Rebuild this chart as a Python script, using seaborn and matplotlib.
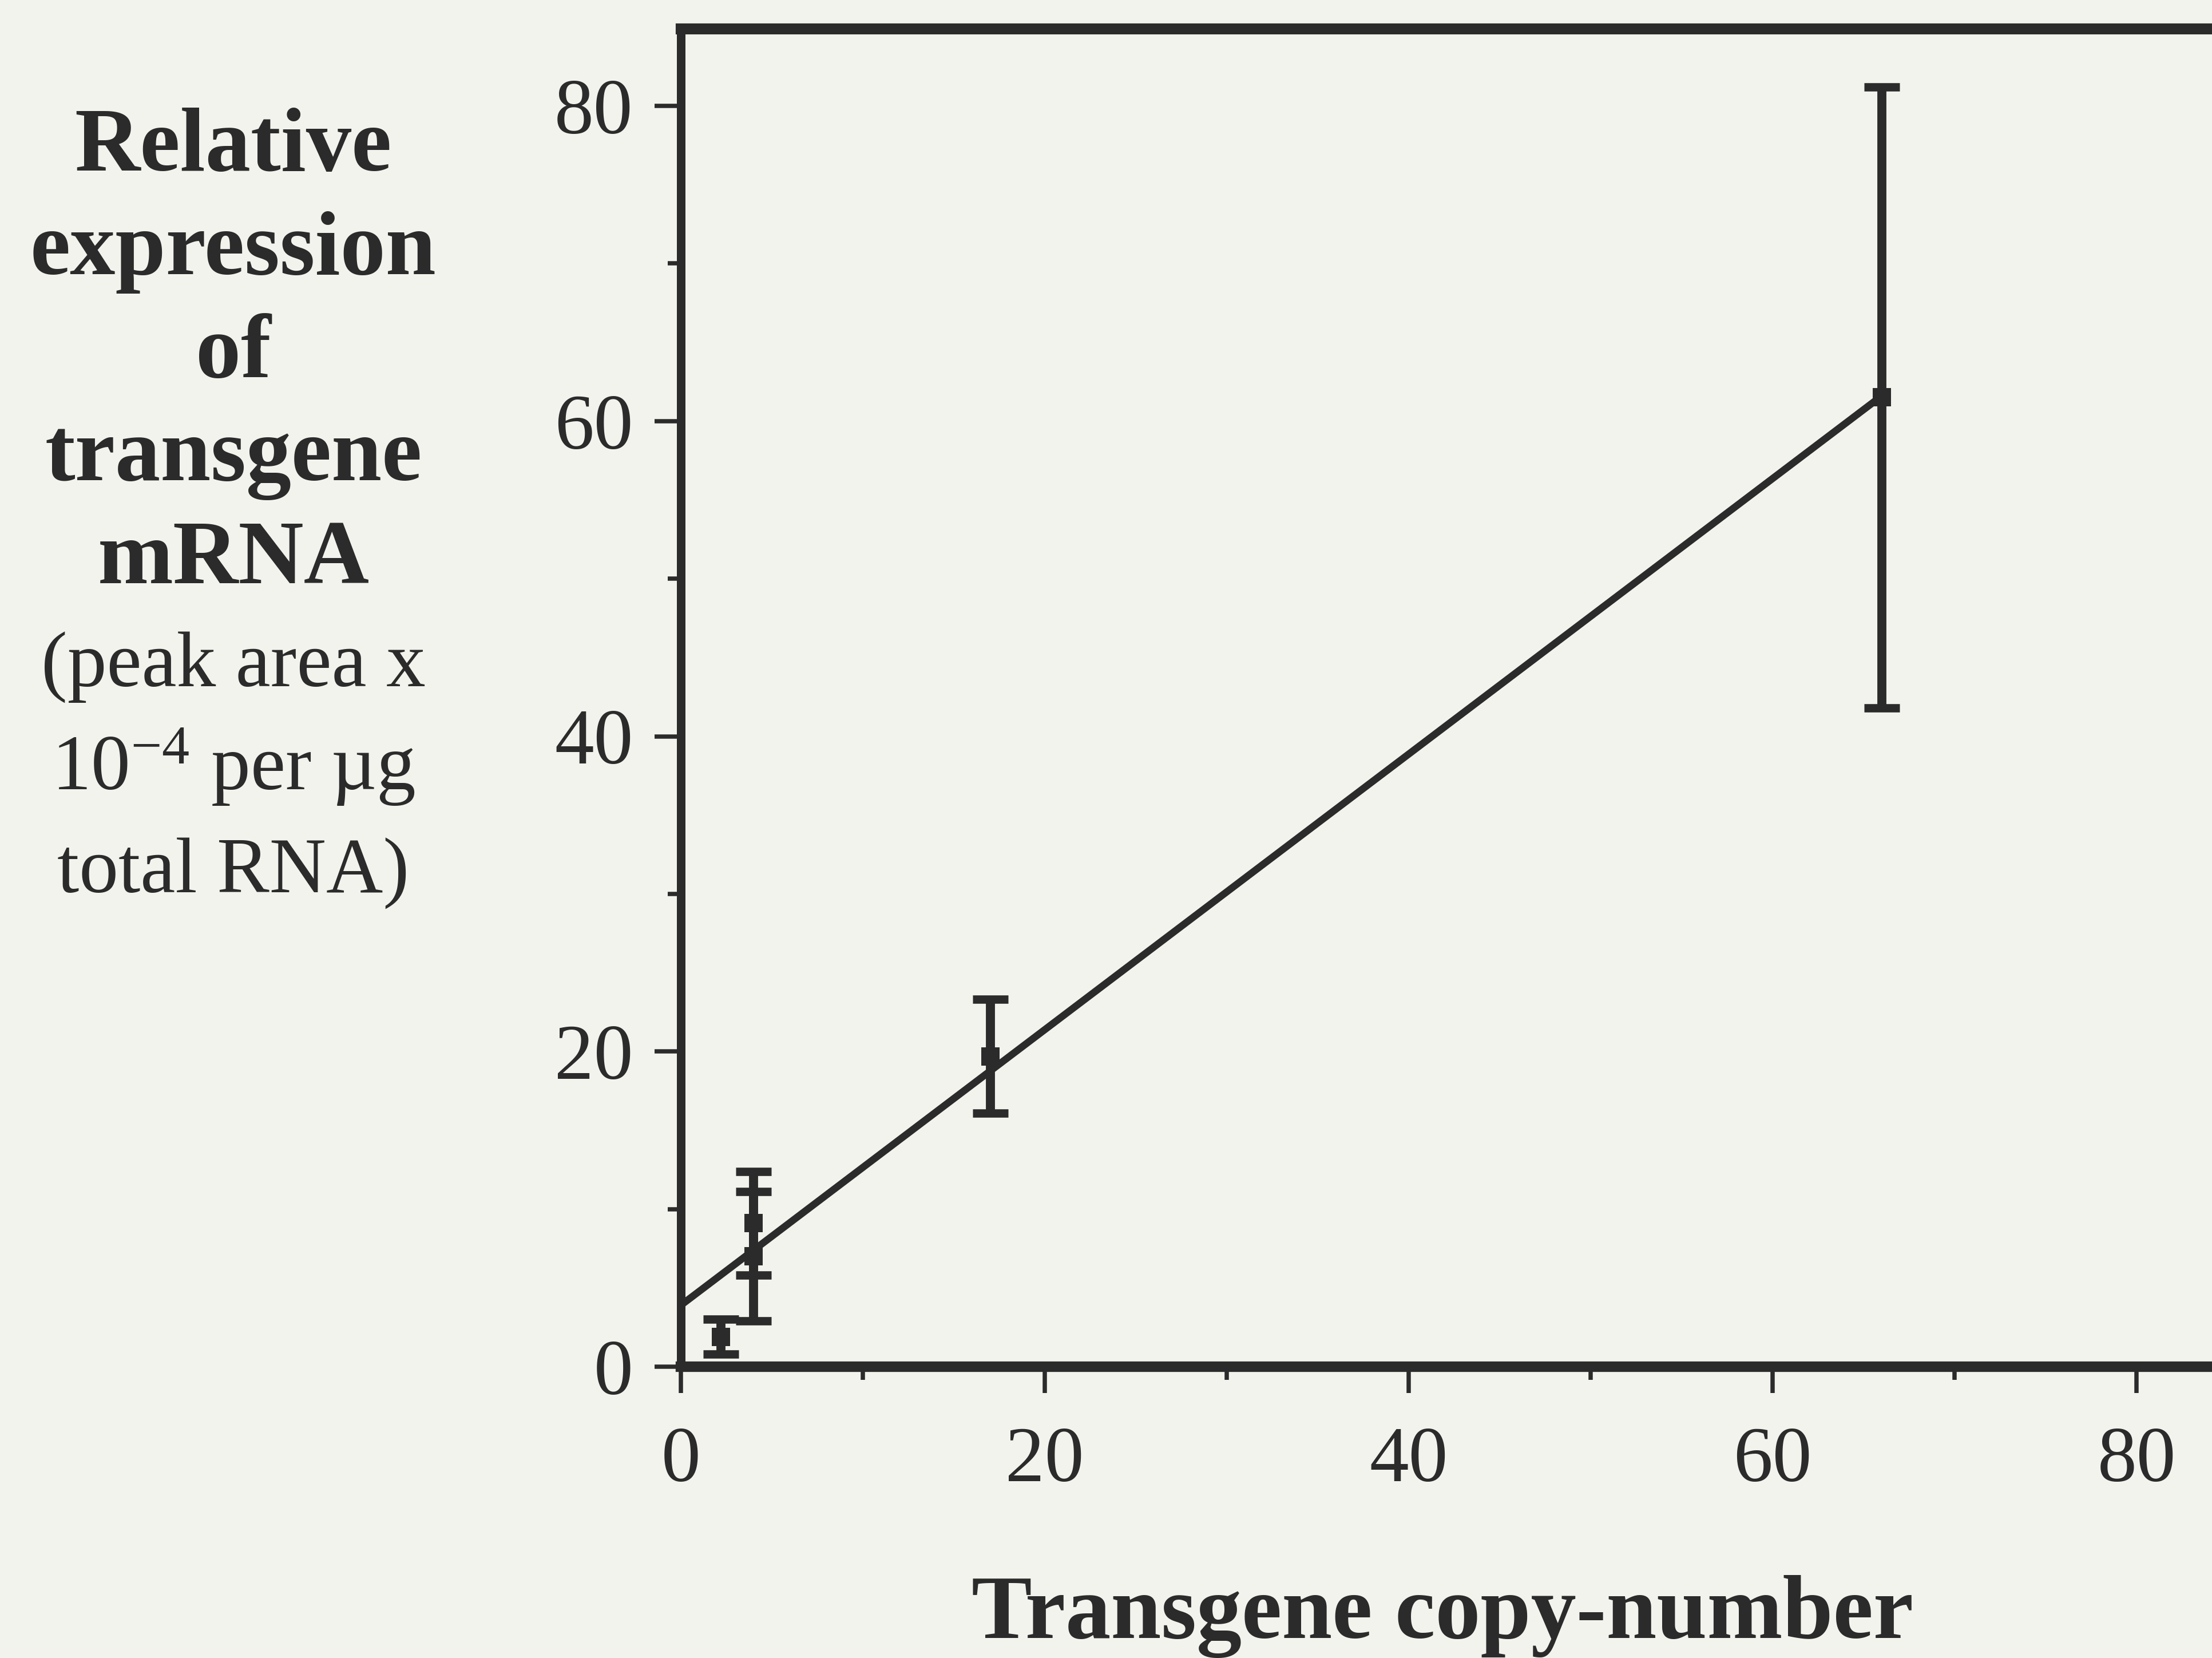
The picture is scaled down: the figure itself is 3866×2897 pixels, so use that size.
import numpy as np
import pandas as pd
import matplotlib
matplotlib.use("Agg")
from matplotlib import pyplot as plt
import seaborn as sns

# values
copies = [2.2, 4.0, 4.0, 17.0, 66.0]
expression = [1.9, 7.0, 9.1, 19.7, 61.5]
expr_err = [1.1, 4.1, 3.3, 3.6, 19.7]

# fitted line, drawn from the y axis up to the last point
fit_x = [0.0, 66.0]
fit_y = [3.9, 61.6]

x_ticks = [0, 20, 40, 60, 80]
y_ticks = [0, 20, 40, 60, 80]
minor_ticks = [10, 30, 50, 70]

ylabel_bold = ["Relative", "expression", "of", "transgene", "mRNA"]
ylabel_plain = ["(peak area x", "10$^{-4}$ per \u00b5g", "total RNA)"]
xlabel = "Transgene copy-number"

ink = "#2b2b2b"
paper = "#f3f3ee"

sns.set_style("ticks")
plt.rcParams["font.family"] = ["Liberation Serif", "DejaVu Serif"]
plt.rcParams["mathtext.fontset"] = "custom"
plt.rcParams["mathtext.rm"] = "Liberation Serif"
plt.rcParams["mathtext.it"] = "Liberation Serif"
plt.rcParams["mathtext.default"] = "rm"

df = pd.DataFrame({"copies": copies, "expression": expression, "err": expr_err})
fit = pd.DataFrame({"x": fit_x, "y": fit_y})

fig = plt.figure(figsize=(3866 / 300, 2897 / 300), dpi=300, facecolor=paper)
ax = fig.add_axes([0.3078, 0.1757, 1 - 0.3078, 0.807])
ax.set_facecolor(paper)

# regression line
sns.lineplot(data=fit, x="x", y="y", ax=ax, color=ink, lw=3.0, zorder=2)

# error bars and square markers
ax.errorbar(df["copies"], df["expression"], yerr=df["err"], fmt="none",
            ecolor=ink, elinewidth=3.8, capsize=7.5, capthick=3.5, zorder=3)
sns.scatterplot(data=df, x="copies", y="expression", ax=ax, marker="s",
                s=60, color=ink, edgecolor=ink, linewidth=0, zorder=4)

ax.set_xlim(0, 84.15)
ax.set_ylim(0, 84.9)
ax.set_xticks(x_ticks)
ax.set_yticks(y_ticks)
ax.set_xticks(minor_ticks, minor=True)
ax.set_yticks(minor_ticks, minor=True)
ax.set_xlabel("")
ax.set_ylabel("")

for side in ["left", "bottom", "top"]:
    ax.spines[side].set_color(ink)
ax.spines["left"].set_linewidth(3.6)
ax.spines["bottom"].set_linewidth(4.4)
ax.spines["top"].set_linewidth(4.6)
ax.spines["right"].set_visible(False)

ax.tick_params(axis="both", which="major", direction="out", length=11,
               width=1.8, color=ink, labelcolor=ink, labelsize=33)
ax.tick_params(axis="both", which="minor", direction="out", length=5.5,
               width=1.8, color=ink)
ax.tick_params(axis="y", which="major", pad=9)
ax.tick_params(axis="x", which="major", pad=14)

# stacked y label on the left, bold lines then plain ones
line_y = 0.897
for line in ylabel_bold:
    fig.text(0.1055, line_y, line, ha="center", va="baseline",
             fontsize=38, fontweight="bold", color=ink)
    line_y -= 0.0622
for line in ylabel_plain:
    fig.text(0.1055, line_y, line, ha="center", va="baseline",
             fontsize=33, color=ink)
    line_y -= 0.0622

fig.text(0.652, 0.012, xlabel, ha="center", va="baseline",
         fontsize=38, fontweight="bold", color=ink)

fig.savefig("out.png", dpi=300, facecolor=paper)
